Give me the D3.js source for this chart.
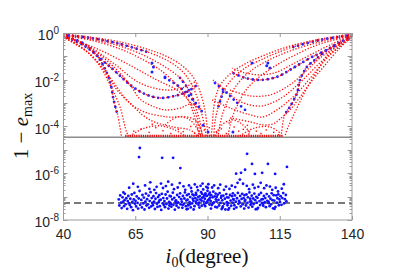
<!DOCTYPE html>
<html>
<head>
<meta charset="utf-8">
<script src="https://cdn.jsdelivr.net/npm/d3@7"></script>
<style>
body { margin: 0; background: #fff; }
svg { display: block; }
</style>
</head>
<body>
<svg id="chart" width="397" height="280"></svg>
<script>
// values: x = i0 in degrees, y = log10(1 - e_max)
var xTicks = [40, 65, 90, 115, 140];
var yTickExps = [0, -2, -4, -6, -8];
var cutLevel = -4.46;   // solid separator
var dashLevel = -7.27;  // dashed reference level

// red (dotted) curves, left family
var redLeft = [
  [[40,-0.04],[49.3,-0.17],[59.7,-0.38],[70.1,-0.73],[77,-1.07],[82.2,-1.5],[85.7,-2.01],[87.8,-2.65],[89.1,-3.29],[89.8,-3.93],[90.2,-4.4]],
  [[40,-0.09],[49.3,-0.21],[59.7,-0.47],[70.1,-0.85],[77,-1.24],[81.5,-1.67],[84.6,-2.22],[86.7,-2.86],[88.1,-3.5],[89.1,-4.06],[89.5,-4.4]],
  [[40,-0.09],[49.3,-0.26],[59.7,-0.56],[68.4,-0.98],[75.3,-1.45],[80.5,-1.92],[83.9,-2.52],[86,-3.21],[87.4,-3.8],[88.1,-4.4]],
  [[40,-0.13],[49.3,-0.3],[59.7,-0.68],[66.6,-1.07],[73.6,-1.58],[79.4,-2.22],[83.3,-2.86],[85.3,-3.5],[86.7,-4.15],[87.1,-4.4]],
  [[40,-0.13],[52.8,-0.73],[64.2,-1.45],[72.5,-2.01],[79.4,-2.44],[83.9,-2.95],[86.4,-3.63],[87.4,-4.4]],
  [[40,-0.13],[47.6,-0.47],[57.3,-1.28],[66.6,-2.14],[76,-2.44],[82.2,-2.31],[85.7,-2.09]],
  [[40,-0.13],[46.9,-0.51],[56.3,-1.45],[64.2,-2.31],[69.1,-2.65],[73.6,-2.78],[78.8,-2.69],[82.9,-2.52],[86.4,-2.22]],
  [[40,-0.13],[49.3,-0.64],[58,-1.5],[63.2,-2.22],[66.6,-2.82],[70.1,-3.08],[75.3,-3.29],[80.5,-3.21],[84.6,-3.03],[87.4,-3.29]],
  [[40,-0.17],[47.6,-0.73],[54.5,-1.58],[58.7,-2.44],[66.6,-3.29],[76,-3.59],[82.9,-3.59],[86.4,-3.8],[88.4,-4.4]],
  [[40,-0.17],[48.7,-0.85],[56.3,-1.92],[62.1,-2.86],[70.1,-3.72],[78.1,-4.02],[83.9,-4.15],[86.7,-4.4]],
  [[40,-0.17],[45.9,-0.56],[51.8,-1.24],[56.3,-2.22],[59.7,-3.16],[62.1,-4.27],[62.8,-4.4]],
  [[40,-0.13],[46.9,-0.43],[51.8,-0.98],[54.8,-1.6],[56.5,-2.2],[57.4,-2.8],[58.2,-3.2],[59,-3.55],[60.2,-4.4]]
];

// red (dotted) curves, right family
var redRight = [
  [[140,-0.04],[128.9,-0.26],[118.5,-0.56],[109.9,-0.94],[103,-1.32],[97.8,-1.75],[94.3,-2.26],[92.6,-2.86],[91.9,-3.5],[91.6,-4.06],[91.2,-4.4]],
  [[140,-0.09],[128.9,-0.3],[118.5,-0.64],[109.9,-1.07],[103,-1.5],[98.5,-1.97],[95.4,-2.52],[93.6,-3.21],[92.6,-3.8],[92.2,-4.4]],
  [[140,-0.09],[128.9,-0.38],[118.5,-0.77],[109.9,-1.24],[104,-1.71],[99.9,-2.26],[97.1,-2.86],[95,-3.55],[94,-4.15],[93.6,-4.4]],
  [[140,-0.13],[128.9,-0.47],[120.3,-0.94],[113.4,-1.41],[107.5,-1.92],[103.3,-2.44],[100.6,-3.03],[98.5,-3.63],[97.1,-4.4]],
  [[140,-0.09],[132.4,-0.51],[125.5,-0.94],[119.6,-1.32],[114,-1.67],[108.9,-1.79],[103,-1.71],[98.5,-1.5]],
  [[140,-0.13],[133.4,-0.6],[125.5,-1.07],[119.6,-1.5],[114,-1.88],[108.2,-2.01],[103,-1.92],[98.8,-1.71]],
  [[97.8,-2.44],[104.7,-2.69],[111.6,-2.65],[118.5,-2.22],[123.7,-1.67],[128.9,-1.07],[140,-0.13]],
  [[91.9,-2.01],[96.1,-2.44],[100.2,-2.86],[104.7,-3.08],[108.9,-3.12],[112.3,-2.99],[116.1,-2.74],[119.6,-2.39],[123.7,-1.92],[128.9,-1.28],[134.1,-0.73],[140,-0.17]],
  [[91.6,-2.86],[97.8,-3.21],[104.7,-3.5],[109.2,-3.59],[114,-3.29],[118.5,-2.86],[122,-2.44],[126.5,-1.79],[132.4,-0.94],[140,-0.17]],
  [[97.8,-3.63],[104.7,-3.8],[109.2,-3.93],[112.7,-3.89],[115.1,-3.68],[118.5,-3.29],[122,-2.74],[125.5,-2.14],[130.7,-1.37],[135.8,-0.64],[140,-0.17]],
  [[140,-0.17],[132.4,-0.81],[128.2,-1.58],[123.7,-2.52],[120.3,-3.38],[117.9,-4.02],[116.8,-4.4]],
  [[140,-0.13],[132.4,-0.64],[127.2,-1.15],[124.4,-1.45],[122,-2.01],[121,-2.56],[118.5,-3.16],[116.8,-3.46],[115.5,-4.4]]
];

// small red arcs just above the floor
var redArcs = [
  [[75.3,-3.93],[79.8,-3.59],[83.9,-3.72],[86.7,-4.15],[87.8,-4.4]],
  [[92.6,-4.4],[95,-3.93],[98.5,-3.72],[101.9,-3.89],[104.7,-4.27]],
  [[63.2,-4.4],[68.4,-4.06],[73.6,-3.97],[78.8,-4.15],[82.2,-4.4]],
  [[101.2,-4.4],[106.4,-4.06],[111.6,-4.02],[115.1,-4.27]]
];
var redFloor = [[61.5,-4.40],[116.0,-4.40]];
var redSpecks = [[64.5,-4.2],[67,-4.1],[69.8,-4.25],[72.1,-4.05],[74.6,-4.18],[77.3,-4.3],[79.9,-4.12],[81.6,-4.22],
  [84.2,-4.0],[85.5,-4.28],[88.9,-4.15],[90.6,-4.05],[93.1,-4.22],[94.8,-4.1],[96.5,-4.3],[99.2,-4.02],[100.8,-4.2],
  [102.4,-4.12],[104.3,-4.32],[106.9,-4.2],[108.5,-4.3],[110.3,-4.15],[112.9,-4.25],[114.6,-4.35],[70.9,-3.9],[97.5,-3.85],[103.8,-3.95]];

// blue dotted curves (upper panel)
var blueCurves = [
  [[40,-0.13],[46.9,-0.51],[56.3,-1.45],[64.2,-2.31],[69.1,-2.65],[73.6,-2.78],[78.8,-2.69],[82.9,-2.52],[86.4,-2.22]],
  [[40,-0.13],[46.9,-0.43],[51.8,-0.98],[54.8,-1.6],[56.5,-2.2],[57.4,-2.8],[58.2,-3.2],[59,-3.55]],
  [[75.3,-1.92],[79.8,-2.26],[83.3,-2.65],[86.7,-3.12],[88.8,-3.5]],
  [[140,-0.13],[133.4,-0.6],[125.5,-1.07],[119.6,-1.5],[114,-1.88],[108.2,-2.01],[103,-1.92],[98.8,-1.71]],
  [[140,-0.13],[132.4,-0.64],[127.2,-1.15],[124.4,-1.45],[122,-2.01],[121,-2.56],[118.5,-3.16],[116.8,-3.46]],
  [[92.6,-2.14],[96.1,-2.5],[99.5,-2.9],[103,-3.29]],
  [[40,-0.09],[49.3,-0.21],[59.7,-0.47],[70.1,-0.85]],
  [[140,-0.09],[128.9,-0.3],[118.5,-0.64]],
  [[80.5,-1.92],[83.9,-2.52],[86,-3.21]],
  [[95.4,-2.52],[93.6,-3.21]]
];
var blueSpots = [[70.8,-1.28],[70.8,-1.67],[71.3,-1.45],[75.3,-1.88],[105.4,-1.28],[110.9,-1.28],[111.6,-1.5],
  [110.5,-1.4],[90.2,-4.23],[98.8,-4.23],[88.5,-3.95]];

// blue scatter (lower panel)
var blueScatter = [
  [59.3,-7.12],[59.5,-7.38],[59.8,-6.95],[60.1,-7.26],[60.3,-7.49],[60.6,-7.03],[60.8,-7.21],[60.9,-6.82],
  [61.1,-7.41],[61.3,-7.15],[61.4,-6.88],[61.7,-7.33],[61.9,-7.07],[62.2,-7.52],[62.4,-7.19],[62.6,-6.97],[62.8,-7.28],[62.9,-6.62],
  [63.1,-7.36],[63.3,-7.09],[63.6,-7.45],[63.8,-6.91],[64.0,-7.23],[64.2,-7.58],[64.5,-7.12],[64.7,-6.84],[64.9,-7.31],[64.3,-6.45],
  [65.1,-7.18],[65.3,-7.42],[65.5,-6.99],[65.8,-7.27],[66.0,-7.51],[66.2,-7.08],[66.5,-6.76],[66.7,-7.35],[66.6,-4.92],[66.3,-5.31],[65.9,-6.58],
  [67.1,-7.14],[67.3,-7.46],[67.5,-6.93],[67.8,-7.29],[68.0,-7.04],[68.2,-7.55],[68.5,-7.21],[68.7,-6.87],[68.9,-7.38],[68.4,-6.52],
  [69.1,-7.11],[69.4,-7.33],[69.6,-6.96],[69.8,-7.48],[70.0,-7.19],[70.3,-6.81],[70.5,-7.42],[70.7,-7.06],[70.9,-7.27],[70.2,-6.39],[69.9,-6.67],
  [71.1,-7.37],[71.3,-6.98],[71.5,-7.22],[71.8,-7.53],[72.0,-7.09],[72.2,-6.85],[72.5,-7.31],[72.7,-7.44],[72.9,-7.02],[72.4,-6.58],[71.6,-6.71],
  [73.1,-7.24],[73.3,-6.94],[73.5,-7.41],[73.8,-7.13],[74.0,-7.57],[74.2,-6.88],[74.5,-7.29],[74.7,-7.06],[74.9,-7.36],[73.9,-6.44],[74.6,-6.63],[73.4,-7.16],[74.3,-5.34],
  [75.1,-7.19],[75.3,-7.45],[75.5,-6.91],[75.8,-7.32],[76.0,-7.08],[76.2,-6.79],[76.5,-7.51],[76.7,-7.23],[76.9,-6.97],[75.6,-6.55],[76.4,-6.36],[76.8,-7.38],
  [77.1,-7.27],[77.3,-6.99],[77.5,-7.43],[77.8,-7.12],[78.0,-6.83],[78.2,-7.35],[78.5,-7.05],[78.7,-7.56],[78.9,-7.21],[77.7,-6.49],[78.4,-6.68],[78.1,-5.34],[77.4,-7.31],
  [79.1,-7.16],[79.3,-7.39],[79.5,-6.93],[79.8,-7.25],[80.0,-7.47],[80.2,-7.02],[80.5,-6.86],[80.7,-7.33],[80.9,-7.11],[79.7,-6.61],[80.4,-6.42],[80.6,-5.78],[79.2,-7.29],
  [81.1,-7.22],[81.3,-7.48],[81.5,-6.97],[81.8,-7.31],[82.0,-7.08],[82.2,-6.82],[82.5,-7.41],[82.7,-7.17],[82.9,-6.94],[81.7,-6.56],[82.3,-6.71],[81.4,-7.36],[82.8,-7.54],
  [83.1,-7.13],[83.3,-7.37],[83.5,-6.89],[83.8,-7.24],[84.0,-7.02],[84.2,-7.46],[84.5,-6.78],[84.7,-7.29],[84.9,-7.09],[83.6,-6.52],[84.3,-6.63],[83.2,-7.52],[84.8,-6.91],[83.9,-7.33],
  [85.1,-7.18],[85.3,-6.95],[85.5,-7.41],[85.8,-7.07],[86.0,-6.84],[86.2,-7.29],[86.5,-7.14],[86.7,-6.73],[86.9,-7.36],[85.6,-6.48],[86.4,-6.59],[85.2,-7.55],[86.8,-7.02],[85.9,-7.22],[86.1,-6.92],
  [87.1,-7.26],[87.3,-6.98],[87.5,-7.12],[87.8,-6.81],[88.0,-7.39],[88.2,-7.05],[88.5,-6.69],[88.7,-7.21],[88.9,-6.93],[87.6,-6.54],[88.3,-6.44],[87.2,-7.47],[88.8,-7.33],[87.9,-7.17],[88.1,-6.88],[88.6,-7.01],
  [89.1,-7.09],[89.3,-6.86],[89.5,-7.27],[89.8,-6.97],[90.0,-6.75],[90.2,-7.15],[90.5,-6.91],[90.7,-7.34],[90.9,-7.04],[89.6,-6.58],[90.3,-6.47],[89.2,-7.41],[90.8,-6.83],[89.9,-7.22],[90.1,-6.63],[90.6,-7.11],[89.4,-6.95],
  [91.1,-7.19],[91.3,-6.94],[91.5,-7.36],[91.8,-7.03],[92.0,-6.79],[92.2,-7.25],[92.5,-6.99],[92.7,-7.44],[92.9,-7.12],[91.6,-6.61],[92.3,-6.52],[91.2,-7.51],[92.8,-6.87],[91.9,-7.29],
  [93.1,-7.21],[93.3,-7.46],[93.5,-6.92],[93.8,-7.14],[94.0,-7.38],[94.2,-6.85],[94.5,-7.27],[94.7,-7.05],[94.9,-7.53],[93.7,-6.64],[94.4,-6.49],[93.2,-7.01],[94.8,-6.97],
  [95.1,-7.16],[95.3,-7.42],[95.5,-6.96],[95.8,-7.31],[96.0,-7.09],[96.2,-7.55],[96.5,-6.89],[96.7,-7.24],[96.9,-7.37],[95.7,-6.71],[96.4,-6.57],[95.2,-7.48],[96.8,-7.03],
  [97.1,-7.28],[97.3,-7.04],[97.5,-7.49],[97.8,-6.93],[98.0,-7.17],[98.2,-7.39],[98.5,-6.98],[98.7,-7.26],[98.9,-7.11],[97.6,-6.67],[98.4,-6.53],[97.2,-7.56],[98.8,-6.86],
  [99.1,-7.13],[99.3,-7.37],[99.5,-6.95],[99.8,-7.22],[100.0,-7.46],[100.2,-7.07],[100.5,-6.84],[100.7,-7.31],[100.9,-7.18],[99.6,-6.59],[100.4,-6.41],[99.9,-6.02],[99.2,-7.52],
  [101.1,-7.25],[101.3,-6.97],[101.5,-7.42],[101.8,-7.1],[102.0,-6.88],[102.2,-7.33],[102.5,-7.06],[102.7,-7.51],[102.9,-7.19],[101.6,-5.98],[102.3,-6.45],[101.2,-6.27],[102.8,-6.94],
  [103.1,-7.14],[103.3,-7.38],[103.5,-6.91],[103.8,-7.27],[104.0,-7.03],[104.2,-7.47],[104.5,-6.82],[104.7,-7.21],[104.9,-7.35],[103.6,-6.54],[104.4,-6.68],[103.7,-5.17],[103.0,-5.85],[104.8,-7.09],
  [105.1,-7.2],[105.3,-6.96],[105.5,-7.43],[105.8,-7.08],[106.0,-7.32],[106.2,-6.87],[106.5,-7.15],[106.7,-7.54],[106.9,-7.01],[105.4,-5.6],[106.4,-6.03],[105.7,-6.49],[106.3,-6.63],[105.2,-7.29],
  [107.1,-7.26],[107.3,-7.05],[107.5,-7.48],[107.8,-6.92],[108.0,-7.19],[108.2,-7.36],[108.5,-6.84],[108.7,-7.12],[108.9,-5.98],[107.6,-6.58],[108.4,-6.41],[107.2,-7.53],[108.8,-7.27],
  [109.1,-7.11],[109.3,-7.39],[109.5,-6.97],[109.8,-7.24],[110.0,-7.06],[110.2,-7.45],[110.5,-6.89],[110.9,-5.6],[110.7,-7.18],[109.6,-6.64],[110.4,-6.52],[109.2,-7.31],
  [111.1,-7.22],[111.3,-6.99],[111.5,-7.41],[111.8,-7.09],[112.0,-7.33],[112.2,-6.86],[112.5,-7.15],[112.7,-7.5],[112.9,-6.94],[111.6,-6.57],[112.4,-6.71],[111.2,-7.28],
  [113.1,-7.17],[113.4,-6.03],[113.5,-7.44],[113.8,-6.95],[114.0,-7.26],[114.2,-7.07],[114.5,-6.9],[114.7,-7.37],[114.9,-7.12],[113.6,-6.62],[114.4,-6.78],[113.2,-7.52],
  [115.1,-7.23],[115.3,-6.98],[115.6,-7.35],[115.9,-7.06],[116.2,-6.85],[116.5,-7.29],[116.8,-7.11],[117.1,-6.93],[117.5,-5.73],[115.7,-6.66],[116.4,-6.47],[117.3,-7.2]
];

var svg = d3.select('#chart');
var x = d3.scaleLinear().domain([40, 140]).range([63, 352]);
var y = d3.scaleLog().domain([1, 1e-8]).range([33, 220]);
function yl(v) { return y(Math.pow(10, v)); }

var line = d3.line()
  .x(function (d) { return x(d[0]); })
  .y(function (d) { return yl(d[1]); })
  .curve(d3.curveCatmullRom.alpha(0.5));

svg.append('defs').append('clipPath').attr('id', 'plot')
  .append('rect').attr('x', 63).attr('y', 33).attr('width', 289).attr('height', 187);

var plot = svg.append('g').attr('clip-path', 'url(#plot)');

// separator and reference lines
plot.append('line')
  .attr('x1', x(40)).attr('x2', x(140))
  .attr('y1', yl(cutLevel)).attr('y2', yl(cutLevel))
  .attr('stroke', '#8c8c8c').attr('stroke-width', 1.3);
plot.append('line')
  .attr('x1', x(40)).attr('x2', x(140))
  .attr('y1', yl(dashLevel)).attr('y2', yl(dashLevel))
  .attr('stroke', '#4d4d4d').attr('stroke-width', 1.5)
  .attr('stroke-dasharray', '7,4');

// blue curves
plot.selectAll('.bc').data(blueCurves).enter().append('path')
  .attr('class', 'bc')
  .attr('d', line)
  .attr('fill', 'none')
  .attr('stroke', '#2020ff')
  .attr('stroke-width', 2.8)
  .attr('stroke-linecap', 'round')
  .attr('stroke-dasharray', '0,5');

plot.selectAll('.bs').data(blueSpots).enter().append('circle')
  .attr('class', 'bs')
  .attr('cx', function (d) { return x(d[0]); })
  .attr('cy', function (d) { return yl(d[1]); })
  .attr('r', 1.5)
  .attr('fill', '#2020ff');

// red curves
var allRed = redLeft.concat(redRight).concat(redArcs);
plot.selectAll('.rc').data(allRed).enter().append('path')
  .attr('class', 'rc')
  .attr('d', line)
  .attr('fill', 'none')
  .attr('stroke', '#ff1010')
  .attr('stroke-width', 1.3)
  .attr('stroke-dasharray', '1.3,1.7');

plot.append('path')
  .datum(redFloor)
  .attr('d', line)
  .attr('fill', 'none')
  .attr('stroke', '#e01010')
  .attr('stroke-width', 2.4)
  .attr('stroke-dasharray', '1.4,0.8');

plot.selectAll('.rs').data(redSpecks).enter().append('rect')
  .attr('class', 'rs')
  .attr('x', function (d) { return x(d[0]) - 0.7; })
  .attr('y', function (d) { return yl(d[1]) - 0.7; })
  .attr('width', 1.4).attr('height', 1.4)
  .attr('fill', '#ff1010');

// lower-panel scatter
plot.selectAll('.sc').data(blueScatter).enter().append('circle')
  .attr('class', 'sc')
  .attr('cx', function (d) { return x(d[0]); })
  .attr('cy', function (d) { return yl(d[1]); })
  .attr('r', 1.4)
  .attr('fill', '#1010ff');

// frame
var axisColor = '#9a9a9a';
svg.append('rect')
  .attr('x', 63.5).attr('y', 33.5).attr('width', 288.5).attr('height', 186.5)
  .attr('fill', 'none').attr('stroke', axisColor).attr('stroke-width', 1);

// x ticks (bottom + top, inward)
var xAxis = svg.append('g')
  .attr('transform', 'translate(0,220)')
  .call(d3.axisBottom(x).tickValues(xTicks).tickSizeInner(-4).tickSizeOuter(0).tickPadding(9));
xAxis.select('.domain').remove();
xAxis.selectAll('line').attr('stroke', axisColor);
xAxis.selectAll('text')
  .attr('fill', '#262626')
  .style('font-family', 'Liberation Sans, Arial, sans-serif')
  .style('font-size', '14px');
svg.append('g').selectAll('line').data(xTicks).enter().append('line')
  .attr('x1', function (d) { return x(d) + 0.5; }).attr('x2', function (d) { return x(d) + 0.5; })
  .attr('y1', 33).attr('y2', 37)
  .attr('stroke', axisColor);

// y ticks: majors every decade, minors in between, both sides
var majors = d3.range(0, -9, -1).map(function (k) { return Math.pow(10, k); });
var minors = y.ticks().filter(function (v) {
  var m = v / Math.pow(10, Math.floor(Math.log10(v) + 1e-9));
  return Math.abs(m - 1) > 1e-6;
});
var yt = svg.append('g');
[[63, 1], [352, -1]].forEach(function (side) {
  yt.selectAll(null).data(majors).enter().append('line')
    .attr('x1', side[0]).attr('x2', side[0] + side[1] * 4.5)
    .attr('y1', function (d) { return Math.round(y(d)) + 0.5; })
    .attr('y2', function (d) { return Math.round(y(d)) + 0.5; })
    .attr('stroke', axisColor);
  yt.selectAll(null).data(minors).enter().append('line')
    .attr('x1', side[0]).attr('x2', side[0] + side[1] * 2.5)
    .attr('y1', function (d) { return Math.round(y(d)) + 0.5; })
    .attr('y2', function (d) { return Math.round(y(d)) + 0.5; })
    .attr('stroke', axisColor);
});

var yLab = svg.append('g')
  .style('font-family', 'Liberation Sans, Arial, sans-serif')
  .attr('fill', '#262626');
yTickExps.forEach(function (e) {
  var t = yLab.append('text')
    .attr('x', 59)
    .attr('y', y(Math.pow(10, e)) + 7)
    .attr('text-anchor', 'end')
    .style('font-size', '14px');
  t.append('tspan').text('10');
  t.append('tspan').attr('dy', -6).style('font-size', '10px').text(e === 0 ? '0' : '-' + (-e));
});

// axis titles
var serif = 'Liberation Serif, Times New Roman, serif';
var xt = svg.append('text')
  .attr('x', 207).attr('y', 263)
  .attr('text-anchor', 'middle')
  .style('font-family', serif).style('font-size', '21px')
  .attr('fill', '#111');
xt.append('tspan').style('font-style', 'italic').text('i');
xt.append('tspan').attr('dy', 4).style('font-size', '14px').text('0');
xt.append('tspan').attr('dy', -4).text('(degree)');

var ytl = svg.append('text')
  .attr('transform', 'translate(28,126) rotate(-90)')
  .attr('text-anchor', 'middle')
  .style('font-family', serif).style('font-size', '21px')
  .attr('fill', '#111');
ytl.append('tspan').text('1 \u2212 ');
ytl.append('tspan').style('font-style', 'italic').text('e');
ytl.append('tspan').attr('dy', 4).style('font-size', '14px').text('max');
</script>
</body>
</html>
